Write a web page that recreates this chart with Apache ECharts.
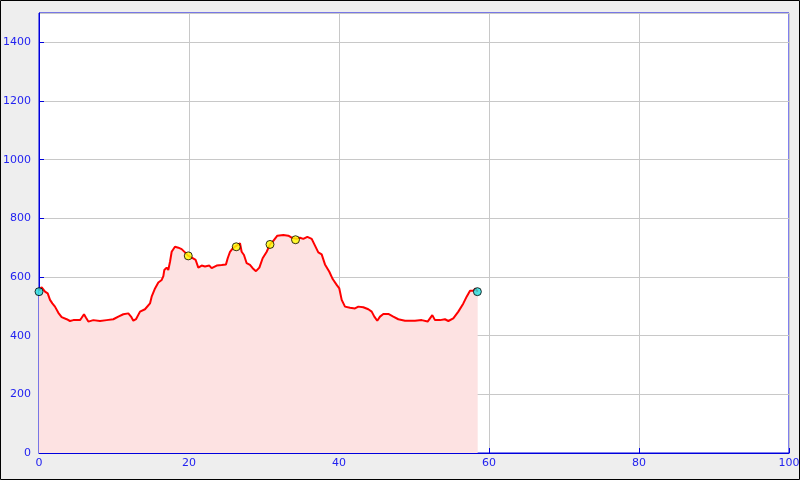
<!DOCTYPE html>
<html>
<head>
<meta charset="utf-8">
<script src="https://cdn.jsdelivr.net/npm/echarts@6/dist/echarts.min.js"></script>
<style>
html,body{margin:0;padding:0;background:#eeeeee;}
#chart{width:800px;height:480px;}
</style>
</head>
<body>
<div id="chart"></div>
<script>
// distance (km)
const distance = [0,0.36,0.8,1.16,1.47,1.78,2.13,2.58,3.02,3.69,4.13,4.58,5.47,5.69,6.0,6.27,6.58,7.24,8.13,9.02,9.91,10.58,11.24,11.91,12.27,12.58,12.93,13.47,14.13,14.8,15.02,15.47,15.91,16.36,16.58,16.71,17.02,17.24,17.47,17.69,18.13,18.58,19.02,19.47,19.91,20.49,20.89,21.24,21.69,22.13,22.71,23.02,23.69,24.36,24.93,25.16,25.47,25.91,26.36,26.8,27.02,27.33,27.69,28.13,28.49,28.93,29.38,29.82,30.36,30.8,31.24,31.78,32.58,33.24,33.69,34.36,34.8,35.24,35.78,36.36,36.8,37.24,37.69,38.13,38.71,39.16,39.69,40.04,40.36,40.8,41.47,42.13,42.58,43.24,43.91,44.36,44.71,45.1,45.47,45.91,46.58,47.24,47.91,48.8,50.13,51.02,51.82,52.13,52.44,52.8,53.47,54.13,54.58,55.24,55.91,56.58,57.02,57.47,57.91,58.22,58.49];
// elevation (m)
const elevation = [555,565,550,544,522,510,499,478,463,456,450,453,453,461,473,461,448,453,450,453,456,465,473,476,465,451,456,482,490,510,533,561,581,590,603,624,632,624,652,686,703,700,695,684,672,664,658,632,639,636,639,630,639,641,643,664,686,700,707,715,686,675,647,641,630,620,632,664,686,711,723,741,743,741,734,730,734,730,737,730,707,684,677,643,618,593,573,561,522,499,495,493,499,497,490,482,465,451,465,474,474,465,456,451,451,453,448,459,470,453,453,456,450,459,482,510,533,553,553,561,550];
// waypoint markers
const startEnd = [[0,550],[58.45,550]];
const waypoints = [[19.9,672],[26.3,703],[30.8,711],[34.2,727]];

const profile = distance.map((d,i)=>[d,elevation[i]]);
const labelColor = '#2222f0';
const axisColor = '#0000dd';

const chart = echarts.init(document.getElementById('chart'));
chart.setOption({
  animation:false,
  backgroundColor:'#eeeeee',
  grid:{left:39,top:13,right:11,bottom:27,containLabel:false,outerBoundsMode:'none',show:true,backgroundColor:'#ffffff',borderColor:axisColor,borderWidth:1},
  xAxis:{
    type:'value',min:0,max:100,interval:20,
    axisLine:{show:true,lineStyle:{color:axisColor,width:1}},
    axisTick:{show:true,inside:true,length:5,lineStyle:{color:axisColor}},
    axisLabel:{color:labelColor,fontFamily:'DejaVu Sans',fontSize:11,margin:5,formatter:v=>String(v)},
    splitLine:{show:true,lineStyle:{color:'#c8c8c8',width:1}}
  },
  yAxis:{
    type:'value',min:0,max:1500,interval:200,
    axisLine:{show:true,lineStyle:{color:axisColor,width:1}},
    axisTick:{show:true,inside:true,length:5,lineStyle:{color:axisColor}},
    axisLabel:{color:labelColor,fontFamily:'DejaVu Sans',fontSize:11,margin:8,showMaxLabel:false,formatter:v=>String(v)},
    splitLine:{show:true,lineStyle:{color:'#c8c8c8',width:1}}
  },
  series:[
    {type:'line',data:profile,symbol:'none',z:2,
     lineStyle:{color:'#ff0000',width:2},
     areaStyle:{color:'#fde2e2',opacity:1}},
    {type:'scatter',data:waypoints,symbol:'circle',symbolSize:8,z:3,
     itemStyle:{color:'#ffff00',borderColor:'#000000',borderWidth:1}},
    {type:'scatter',data:startEnd,symbol:'circle',symbolSize:8,z:3,
     itemStyle:{color:'#22dddd',borderColor:'#000000',borderWidth:1}}
  ],
  graphic:[{type:'rect',shape:{x:0.5,y:0.5,width:799,height:479},style:{fill:null,stroke:'#000000',lineWidth:1},silent:true,z:100}]
});
</script>
</body>
</html>
